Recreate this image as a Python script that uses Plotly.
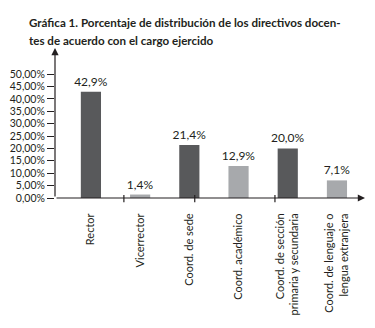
import plotly.graph_objects as go

categories = ["Rector", "Vicerrector", "Coord. de sede", "Coord. académico",
              "Coord. de sección<br>primaria y secundaria",
              "Coord. de lenguaje o<br>lengua extranjera"]
values = [42.9, 1.4, 21.4, 12.9, 20.0, 7.1]
bar_colors = ["#58595b", "#a7a9ac", "#58595b", "#a7a9ac", "#58595b", "#a7a9ac"]
y_ticks = [0, 5, 10, 15, 20, 25, 30, 35, 40, 45, 50]
y_tick_labels = ["0,00%", "5,00%", "10,00%", "15,00%", "20,00%", "25,00%",
                 "30,00%", "35,00%", "40,00%", "45,00%", "50,00%"]
extra_x_ticks = [0.67, 2.11, 3.74]
title_lines = ["Gráfica 1. Porcentaje de distribución de los directivos docen-",
               "tes de acuerdo con el cargo ejercido"]

FONT = "Lato"
INK = "#231f20"
W, H = 375, 328
positions = list(range(len(categories)))

fig = go.Figure()
fig.add_trace(go.Bar(
    x=positions, y=values, width=0.41,
    marker=dict(color=bar_colors, line=dict(width=0)),
    texttemplate="%{y:.1f}%", textposition="outside", constraintext="none",
    textfont=dict(family=FONT, size=12, color=INK),
    cliponaxis=False, hoverinfo="skip",
))

shapes = []
for t in extra_x_ticks:
    shapes.append(dict(type="line", xref="x", yref="paper", x0=t, x1=t,
                       y0=-0.028, y1=0.02, line=dict(color=INK, width=1.2)))

annotations = [
    dict(xref="x domain", yref="y domain", x=1, y=0, ax=0, ay=0,
         axref="x domain", ayref="y domain", showarrow=True, arrowhead=2,
         arrowsize=1.2, arrowwidth=1.2, arrowcolor=INK, text=""),
    dict(xref="x domain", yref="y domain", x=0, y=1, ax=0, ay=0,
         axref="x domain", ayref="y domain", showarrow=True, arrowhead=2,
         arrowsize=1.2, arrowwidth=1.2, arrowcolor=INK, text=""),
]
# title, one annotation per line (page has an 8px body margin)
for i, line in enumerate(title_lines):
    annotations.append(dict(
        xref="paper", yref="paper", x=-28/310, y=1 + (40 - (14 + 18*i))/150,
        xanchor="left", yanchor="middle", showarrow=False, text=line,
        font=dict(family=FONT, size=11.6, color=INK, weight="bold")))

fig.update_layout(
    width=W, height=H,
    margin=dict(l=47, r=18, t=40, b=138, autoexpand=False),
    paper_bgcolor="white", plot_bgcolor="white",
    separators=",.",
    showlegend=False,
    font=dict(family=FONT, color=INK),
    shapes=shapes,
    annotations=annotations,
    xaxis=dict(range=[-0.73, 5.57], tickvals=positions, ticktext=categories,
               tickangle=-90, ticks="outside", ticklen=10, automargin=False,
               tickcolor="rgba(0,0,0,0)", showgrid=False, zeroline=False,
               showline=False, tickfont=dict(family=FONT, size=11, color=INK)),
    yaxis=dict(range=[0, 60.5], tickvals=y_ticks, ticktext=y_tick_labels,
               ticks="outside", ticklen=7, tickwidth=1.2, automargin=False,
               tickcolor=INK, showgrid=False, zeroline=False, showline=False,
               tickfont=dict(family=FONT, size=10.5, color=INK)),
)

fig.write_html("out.html")
